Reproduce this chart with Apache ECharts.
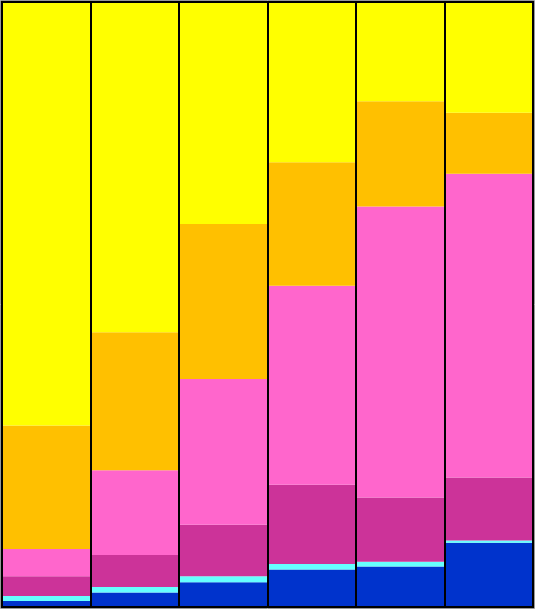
<!DOCTYPE html>
<html>
<head>
<meta charset="utf-8">
<script src="https://cdn.jsdelivr.net/npm/echarts@6/dist/echarts.min.js"></script>
<style>
html,body{margin:0;padding:0;background:#fff;}
#chart{width:535px;height:609px;}
</style>
</head>
<body>
<div id="chart"></div>
<script>
const categories = ['1', '2', '3', '4', '5', '6'];
const blue    = [1.0, 2.4, 4.1, 6.2, 6.7, 10.6];
const cyan    = [0.8, 0.9, 1.0, 0.9, 0.8, 0.4];
const magenta = [3.3, 5.3, 8.5, 13.1, 10.6, 10.4];
const pink    = [4.5, 14.0, 24.1, 32.9, 48.1, 50.2];
const orange  = [20.4, 22.8, 25.6, 20.4, 17.4, 10.1];
const yellow  = [70.0, 54.6, 36.7, 26.5, 16.4, 18.3];

const seriesDefs = [
  {name: 'A', data: blue, color: '#0033CC'},
  {name: 'B', data: cyan, color: '#66FFFF'},
  {name: 'C', data: magenta, color: '#CC3399'},
  {name: 'D', data: pink, color: '#FF66CC'},
  {name: 'E', data: orange, color: '#FFC000'},
  {name: 'F', data: yellow, color: '#FFFF00'}
];

const chart = echarts.init(document.getElementById('chart'));
chart.setOption({
  animation: false,
  grid: {left: 2, right: 2, top: 2, bottom: 2, show: true, borderColor: '#000', borderWidth: 2, z: 10},
  xAxis: {
    type: 'category', data: categories,
    axisLabel: {show: false}, axisTick: {show: false}, axisLine: {show: false},
    splitLine: {show: true, lineStyle: {color: '#000', width: 2}}, z: 10
  },
  yAxis: {
    type: 'value', min: 0, max: 100,
    axisLabel: {show: false}, axisTick: {show: false}, axisLine: {show: false},
    splitLine: {show: false}
  },
  graphic: [{
    type: 'rect', shape: {x: 0.5, y: 0.5, width: 534, height: 608},
    style: {fill: null, stroke: '#999', lineWidth: 1}, z: 100
  }],
  series: seriesDefs.map(s => ({
    name: s.name, type: 'bar', stack: 'total', data: s.data,
    barCategoryGap: 0, itemStyle: {color: s.color}, z: 1
  }))
});
</script>
</body>
</html>
